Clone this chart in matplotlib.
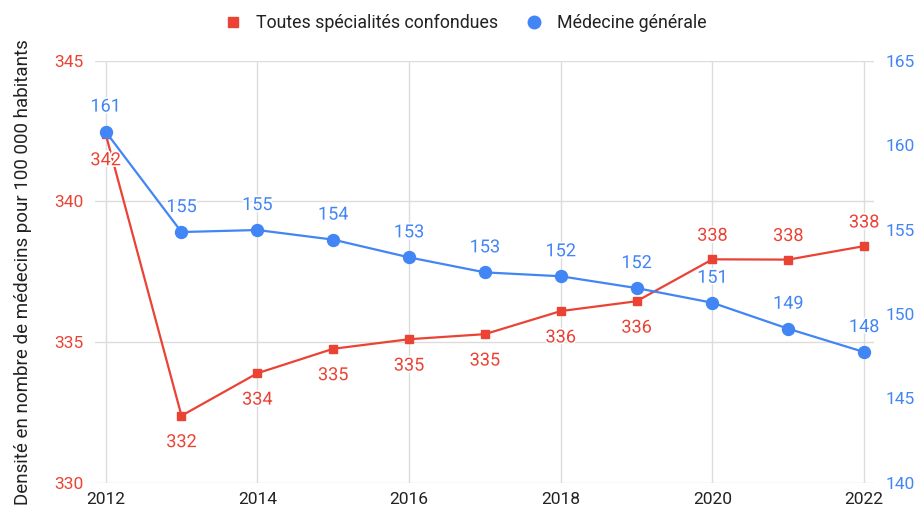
import matplotlib
matplotlib.use('Agg')
import matplotlib.pyplot as plt
import matplotlib.patheffects as pe
from matplotlib.lines import Line2D

plt.rcParams['font.family'] = ['Roboto', 'DejaVu Sans']

years = [2012, 2013, 2014, 2015, 2016, 2017, 2018, 2019, 2020, 2021, 2022]
toutes = [342.4, 332.38, 333.89, 334.76, 335.10, 335.28, 336.10, 336.45, 337.94, 337.93, 338.41]
generale = [160.8, 154.85, 154.97, 154.4, 153.35, 152.46, 152.23, 151.53, 150.66, 149.12, 147.74]
labels_toutes = ['342', '332', '334', '335', '335', '335', '336', '336', '338', '338', '338']
labels_generale = ['161', '155', '155', '154', '153', '153', '152', '152', '151', '149', '148']

RED = '#EA4335'
BLUE = '#4285F4'
GRID = '#dcdcdc'

fig = plt.figure(figsize=(9.17, 5.08), dpi=100)
ax1 = fig.add_axes([0.1036, 0.0498, 0.8495, 0.8307])
ax2 = ax1.twinx()

ax1.plot(years, toutes, color=RED, lw=1.6, marker='s', ms=6, zorder=3)
ax2.plot(years, generale, color=BLUE, lw=1.6, marker='o', ms=8.6, zorder=3)

halo = [pe.withStroke(linewidth=2.5, foreground='white')]
# data labels: red below except last three, blue above
for i, (x, y) in enumerate(zip(years, toutes)):
    dy = 17 if i >= 8 else -19
    ax1.annotate(labels_toutes[i], (x, y), xytext=(0, dy), textcoords='offset points',
                 ha='center', va='center', color=RED, fontsize=13, path_effects=halo)
for i, (x, y) in enumerate(zip(years, generale)):
    ax2.annotate(labels_generale[i], (x, y), xytext=(0, 18), textcoords='offset points',
                 ha='center', va='center', color=BLUE, fontsize=13, path_effects=halo)

ax1.set_xlim(2011.86, 2022.13)
ax1.set_ylim(330, 345)
ax2.set_ylim(140, 165)
ax1.set_xticks([2012, 2014, 2016, 2018, 2020, 2022])
ax1.set_yticks([330, 335, 340, 345])
ax2.set_yticks([140, 145, 150, 155, 160, 165])

ax1.grid(True, color=GRID, lw=1)
ax1.set_axisbelow(True)
for ax in (ax1, ax2):
    for s in ax.spines.values():
        s.set_visible(False)
ax1.tick_params(axis='y', length=0, pad=8, labelcolor=RED, labelsize=12.5)
ax1.tick_params(axis='x', length=0, pad=7, labelcolor='#222222', labelsize=12.5)
ax2.tick_params(axis='y', length=0, pad=8, labelcolor=BLUE, labelsize=12.5)

ax1.set_ylabel('Densité en nombre de médecins pour 100 000 habitants', fontsize=13.5,
               color='#222222', labelpad=16)

handles = [Line2D([], [], color=RED, marker='s', ls='none', ms=7),
           Line2D([], [], color=BLUE, marker='o', ms=9, ls='none')]
fig.legend(handles, ['Toutes spécialités confondues', 'Médecine générale'],
           loc='center', bbox_to_anchor=(0.503, 0.955), ncol=2, frameon=False,
           fontsize=12.8, handletextpad=0.3, columnspacing=1.0, labelcolor='#222222')

fig.savefig('out.png', dpi=100)
